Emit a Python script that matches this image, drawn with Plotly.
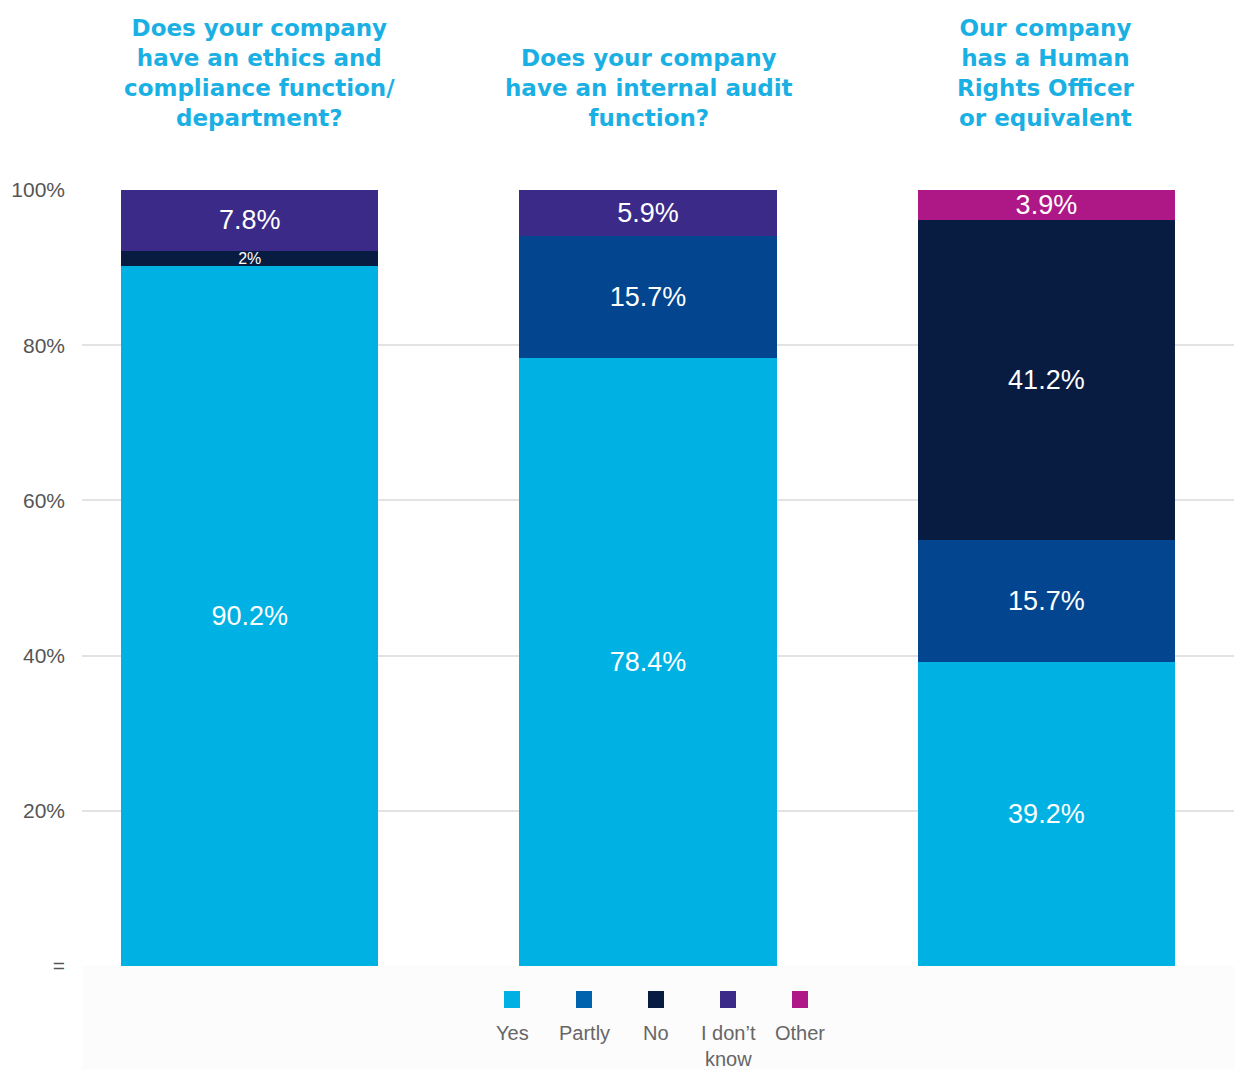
import plotly.graph_objects as go

categories = ["Does your company<br>have an ethics and<br>compliance function/<br>department?",
              "Does your company<br>have an internal audit<br>function?",
              "Our company<br>has a Human<br>Rights Officer<br>or equivalent"]
series_names = ["Yes", "Partly", "No", "I don\u2019t know", "Other"]
legend_labels = ["Yes", "Partly", "No", "I don\u2019t<br>know", "Other"]
yes_vals = [90.2, 78.4, 39.2]
partly_vals = [0, 15.7, 15.7]
no_vals = [2, 0, 41.2]
dontknow_vals = [7.8, 5.9, 0]
other_vals = [0, 0, 3.9]
tick_vals = [0, 20, 40, 60, 80, 100]
tick_text = ["=", "20%", "40%", "60%", "80%", "100%"]

colors = ["#00b2e4", "#03468f", "#081b41", "#3b2a88", "#ad1886"]
legend_colors = ["#00b0e4", "#0063ae", "#081b41", "#3b2a88", "#ad1886"]
all_vals = [yes_vals, partly_vals, no_vals, dontknow_vals, other_vals]

xpos = list(range(len(categories)))

fig = go.Figure()
for name, vals, col in zip(series_names, all_vals, colors):
    texts = [("%g%%" % v) if v > 0 else "" for v in vals]
    sizes = [16 if v < 3 else 27 for v in vals]
    fig.add_trace(go.Bar(
        x=xpos, y=vals, name=name, marker=dict(color=col, line=dict(width=0)),
        text=texts, textposition="inside", insidetextanchor="middle",
        textangle=0, constraintext="none",
        textfont=dict(color="white", size=sizes, family="Liberation Sans"),
        hoverinfo="skip", showlegend=False,
    ))

# Titles above bars
title_xshift = [10, 1, 0]
for i, c in enumerate(categories):
    fig.add_annotation(x=i, y=1, xref="x", yref="paper", yanchor="bottom",
                       yshift=57, xshift=title_xshift[i],
                       text="<b>" + c + "</b>", showarrow=False,
                       font=dict(family="DejaVu Sans", size=23, color="#1ab0e3"),
                       align="center")

# faint background under plot area
fig.add_shape(type="rect", xref="paper", yref="paper", x0=0, x1=1,
              y0=0, y1=-110 / 776, fillcolor="#fcfcfc", line=dict(width=0),
              layer="below")

# Custom legend: squares above labels
plot_w = 1152
leg_x0 = (512 - 82) / plot_w
leg_dx = 72 / plot_w
for i, (lab, col) in enumerate(zip(legend_labels, legend_colors)):
    cx = leg_x0 + i * leg_dx
    fig.add_shape(type="rect", xref="paper", yref="paper",
                  x0=cx - 8 / plot_w, x1=cx + 8 / plot_w,
                  y0=-(991 - 966) / 776, y1=-(1008 - 966) / 776,
                  fillcolor=col, line=dict(width=0))
    fig.add_annotation(xref="paper", yref="paper", x=cx, y=-(1020 - 966) / 776,
                       yanchor="top", text=lab, showarrow=False,
                       font=dict(family="Liberation Sans", size=20, color="#666666"),
                       align="center")

fig.update_layout(
    width=1234, height=1070,
    margin=dict(l=82, r=0, t=190, b=104),
    barmode="stack", bargap=0.354,
    plot_bgcolor="white", paper_bgcolor="white",
    xaxis=dict(range=[-0.421, 2.471], showticklabels=False, showgrid=False,
               zeroline=False, showline=False, fixedrange=True),
    yaxis=dict(range=[0, 100], tickvals=tick_vals, ticktext=tick_text,
               showgrid=True, gridcolor="#e3e3e3", gridwidth=2,
               zeroline=False, showline=False, ticks="", ticklabelstandoff=16,
               tickfont=dict(family="Liberation Sans", size=21, color="#555555")),
    font=dict(family="Liberation Sans"),
)

fig.write_html("out.html", config={"displayModeBar": False},
               post_script="document.body.style.margin='0';document.body.style.overflow='hidden';")
